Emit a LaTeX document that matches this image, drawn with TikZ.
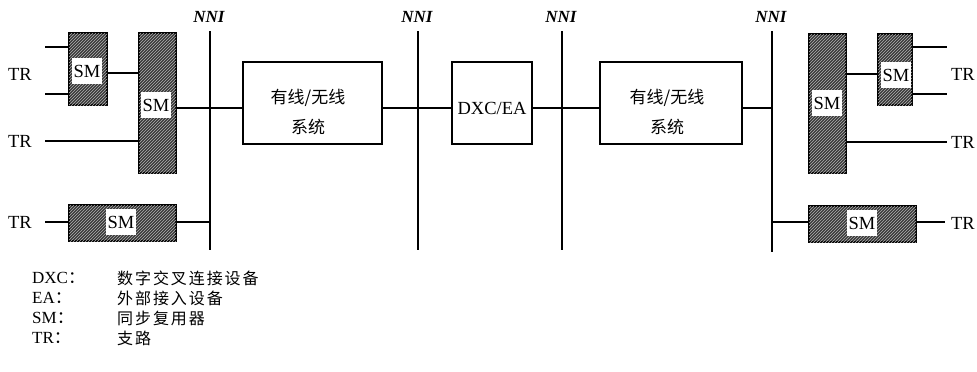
\documentclass[tikz,border=0pt]{standalone}
\usepackage{fontspec}
\setmainfont{Liberation Serif}
\newfontfamily\cjk{Noto Sans CJK SC}
\newfontfamily\cjkl[LetterSpace=12]{Noto Sans CJK SC}
\usetikzlibrary{patterns}
\begin{document}
\begin{tikzpicture}[x=1pt,y=-1pt,
  smbox/.style={draw=black, line width=1.4pt, fill=black!78, postaction={pattern=north east lines, pattern color=gray!60}, inner sep=0pt},
  smlab/.style={fill=white, inner sep=0pt, minimum width=30pt, minimum height=26pt, font=\fontsize{18.5}{18.5}\selectfont},
  sysbox/.style={draw=black, line width=1.1pt, fill=white, inner sep=0pt},
  systext/.style={font=\cjk\fontsize{17}{30}\selectfont, align=center, inner sep=0pt},
  conn/.style={line width=1.1pt},
  nniline/.style={line width=1.1pt},
  lab/.style={font=\fontsize{18.5}{18.5}\selectfont, inner sep=0pt},
  nnilab/.style={font=\bfseries\itshape\fontsize{17}{17}\selectfont, inner sep=0pt},
  legl/.style={font=\fontsize{17}{17}\selectfont, inner sep=0pt, anchor=west},
  legc/.style={font=\cjkl\fontsize{16}{16}\selectfont, inner sep=0pt, anchor=west}]
\useasboundingbox (0,0) rectangle (977,372);

% NNI reference lines
\coordinate (n1t) at (210,31); \coordinate (n1b) at (210,250);
\coordinate (n2t) at (418,31); \coordinate (n2b) at (418,250);
\coordinate (n3t) at (562,31); \coordinate (n3b) at (562,250);
\coordinate (n4t) at (772,31); \coordinate (n4b) at (772,252);
\draw[nniline] (n1t) -- (n1b);
\draw[nniline] (n2t) -- (n2b);
\draw[nniline] (n3t) -- (n3b);
\draw[nniline] (n4t) -- (n4b);
\node[nnilab] (n1l) at (209,17) {NNI};
\node[nnilab] (n2l) at (417,17) {NNI};
\node[nnilab] (n3l) at (561,17) {NNI};
\node[nnilab] (n4l) at (771,17) {NNI};

% y levels
\coordinate (yM) at (0,108);
\coordinate (yAB) at (0,73);
\coordinate (yC) at (0,222);
\coordinate (yDE) at (0,74);
\coordinate (yF) at (0,222);

% main line
\draw[conn] (n1t |- yM) -- (n4t |- yM);

% SM boxes
\node[smbox, minimum width=38pt, minimum height=72pt] (smA) at (88,69) {};
\node[smlab] (smAl) at (87,71) {SM};
\node[smbox, minimum width=37pt, minimum height=140pt] (smB) at (157.5,103) {};
\node[smlab] (smBl) at (156,105) {SM};
\node[smbox, minimum width=107pt, minimum height=36pt] (smC) at (122.5,223) {};
\node[smlab] (smCl) at (121,222) {SM};
\node[smbox, minimum width=37pt, minimum height=139pt] (smD) at (827.5,103.5) {};
\node[smlab] (smDl) at (827,103) {SM};
\node[smbox, minimum width=34pt, minimum height=71pt] (smE) at (895,69.5) {};
\node[smlab] (smEl) at (896,75) {SM};
\node[smbox, minimum width=107pt, minimum height=36pt] (smF) at (862.5,224) {};
\node[smlab] (smFl) at (862,223) {SM};

% system boxes
\node[sysbox, minimum width=139pt, minimum height=82pt] (sys1) at (312.5,103) {};
\node[systext] (sys1t) at (308,112) {有线/无线\\系统};
\node[sysbox, minimum width=80pt, minimum height=82pt] (dxc) at (492,103) {};
\node[lab] (dxct) at (492,108) {DXC/EA};
\node[sysbox, minimum width=142pt, minimum height=82pt] (sys2) at (671,103) {};
\node[systext] (sys2t) at (667,112) {有线/无线\\系统};

% connectors left
\coordinate (trA1) at (45,47);
\coordinate (trA2) at (45,94);
\coordinate (trB) at (45,141);
\coordinate (trC) at (45,222);
\draw[conn] (trA1) -- (trA1 -| smA.west);
\draw[conn] (trA2) -- (trA2 -| smA.west);
\draw[conn] (smA.east |- yAB) -- (smB.west |- yAB);
\draw[conn] (trB) -- (trB -| smB.west);
\draw[conn] (smB.east |- yM) -- (sys1.west |- yM);
\draw[conn] (trC) -- (trC -| smC.west);
\draw[conn] (smC.east |- yC) -- (n1b |- yC);

% connectors right
\coordinate (trE1) at (947,47);
\coordinate (trE2) at (947,94);
\coordinate (trD) at (947,142);
\coordinate (trF) at (945,222);
\draw[conn] (smE.east |- trE1) -- (trE1);
\draw[conn] (smE.east |- trE2) -- (trE2);
\draw[conn] (smD.east |- yDE) -- (smE.west |- yDE);
\draw[conn] (smD.east |- trD) -- (trD);
\draw[conn] (n4b |- yF) -- (smF.west |- yF);
\draw[conn] (smF.east |- trF) -- (trF);

% TR labels
\node[lab] (trl1) at (20,74) {TR};
\node[lab] (trl2) at (20,141) {TR};
\node[lab] (trl3) at (20,222) {TR};
\node[lab] (trr1) at (963,74) {TR};
\node[lab] (trr2) at (963,142) {TR};
\node[lab] (trr3) at (963,223) {TR};

% legend
\node[legl] (lg1) at (32,278) {DXC{\cjk ：}};
\node[legc] (lc1) at (117,278) {数字交叉连接设备};
\node[legl] (lg2) at (32,298) {EA{\cjk ：}};
\node[legc] (lc2) at (117,298) {外部接入设备};
\node[legl] (lg3) at (32,318) {SM{\cjk ：}};
\node[legc] (lc3) at (117,318) {同步复用器};
\node[legl] (lg4) at (32,338) {TR{\cjk ：}};
\node[legc] (lc4) at (117,338) {支路};
\end{tikzpicture}
\end{document}
